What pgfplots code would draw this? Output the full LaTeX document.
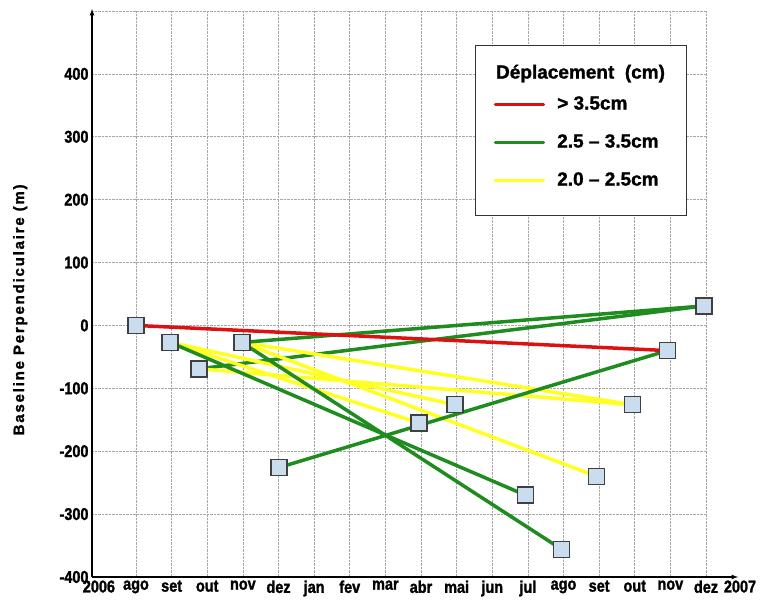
\documentclass[border=0pt]{standalone}
\usepackage{fontspec}
\setmainfont{Liberation Sans}
\newfontfamily\cf{Liberation Sans}[FakeStretch=0.85, BoldFeatures={FakeBold=1.5}]
\newfontfamily\gf{Liberation Sans}[BoldFeatures={FakeBold=1.2}]
\newfontfamily\lf{Liberation Sans}[LetterSpace=12, BoldFeatures={FakeBold=1.5}]
\usepackage{pgfplots}
\pgfplotsset{compat=1.18}
\definecolor{lred}{HTML}{DD1111}
\definecolor{lgreen}{HTML}{1E8C1E}
\definecolor{lyellow}{HTML}{FFFF22}
\definecolor{mfill}{HTML}{C9DDEE}
\begin{document}
\begin{tikzpicture}
\begin{axis}[
  name=ax,
  scale only axis,
  width=614pt, height=566pt,
  xmin=-1.235, xmax=16, ymin=-400, ymax=500,
  clip=false,
  axis x line=bottom, axis y line=left,
  x axis line style={-latex, shorten >=-32pt, line width=1.2pt},
  y axis line style={-latex, shorten >=-2pt, line width=1.2pt},
  xtick={0,...,16},
  xticklabels={ago,set,out,nov,dez,jan,fev,mar,abr,mai,jun,jul,ago,set,out,nov,dez},
  extra x ticks={-1.04},
  extra x tick labels={2006},
  extra x tick style={grid=none},
  ytick={-400,-300,...,500},
  yticklabels={-400,-300,-200,-100,0,100,200,300,400,{}},
  major tick length=0pt,
  grid=major,
  major grid style={densely dotted, gray!70, line width=0.7pt},
  tick label style={font=\cf\bfseries\fontsize{17}{19}\selectfont},
  ylabel={Baseline Perpendiculaire (m)},
  ylabel style={at={(axis description cs:-0.117,0.472)}, anchor=center, font=\lf\bfseries\fontsize{15}{17}\selectfont},
  legend image code/.code={\draw[#1, line width=3.5pt, line cap=round] (0pt,0pt) -- (48pt,0pt);},
  legend style={
    at={(rel axis cs:0.624,0.94)}, anchor=north west,
    draw=black!80, line width=1.2pt, inner xsep=18pt, inner ysep=24pt,
    row sep=16pt, column sep=10pt,
    font=\gf\bfseries\fontsize{19}{21}\selectfont,
    nodes={text height=14pt, text depth=4pt},
    cells={anchor=west},
  },
]
\addlegendimage{legend image code/.code={\node[overlay, anchor=west, inner sep=0pt, font=\gf\bfseries\fontsize{19}{21}\selectfont] at (0pt,0pt) {Déplacement\ \ (cm)};}}
\addlegendentry[text height=2pt, text depth=2pt]{}
\addlegendimage{lred}
\addlegendentry{> 3.5cm}
\addlegendimage{lgreen}
\addlegendentry{2.5 – 3.5cm\hspace*{8pt}}
\addlegendimage{lyellow}
\addlegendentry{2.0 – 2.5cm}

% green hidden partly under yellow
\addplot[lgreen, line width=3.5pt, forget plot] coordinates {(1.77,-69) (15.94,31)};
% yellow (2.0-2.5 cm)
\addplot[lyellow, line width=3.5pt, forget plot] coordinates {(0.96,-27) (7.94,-155)};
\addplot[lyellow, line width=3.5pt, forget plot] coordinates {(0.96,-27) (8.95,-126)};
\addplot[lyellow, line width=3.5pt, forget plot] coordinates {(2.97,-27) (12.93,-240)};
\addplot[lyellow, line width=3.5pt, forget plot] coordinates {(2.97,-27) (13.93,-126)};
\addplot[lyellow, line width=3.5pt, forget plot] coordinates {(1.77,-69) (13.93,-126)};
% green (2.5-3.5 cm)
\addplot[lgreen, line width=3.5pt, forget plot] coordinates {(2.97,-27) (15.94,31)};
\addplot[lgreen, line width=3.5pt, forget plot] coordinates {(0.96,-27) (10.94,-270)};
\addplot[lgreen, line width=3.5pt, forget plot] coordinates {(2.97,-27) (11.95,-356)};
\addplot[lgreen, line width=3.5pt, forget plot] coordinates {(4.01,-226) (14.92,-40)};
% red (> 3.5 cm)
\addplot[lred, line width=3.5pt, forget plot] coordinates {(0,0) (14.92,-40)};
% acquisitions
\addplot[only marks, mark=square*, mark size=8pt, mark options={fill=mfill, draw=black!75, line width=1.5pt}, forget plot] coordinates {
(0,0) (0.96,-27) (1.77,-69) (2.97,-27) (4.01,-226) (7.94,-155) (8.95,-126)
(10.94,-270) (11.95,-356) (12.93,-240) (13.93,-126) (14.92,-40) (15.94,31)};
\node[anchor=north, font=\cf\bfseries\fontsize{17}{19}\selectfont] at ([xshift=34pt]rel axis cs:1,0) {2007};
\end{axis}
\pgfresetboundingbox
\path[use as bounding box] ([shift={(-92pt,-31pt)}]ax.south west) rectangle ([shift={(67pt,11pt)}]ax.north east);
\end{tikzpicture}
\end{document}
